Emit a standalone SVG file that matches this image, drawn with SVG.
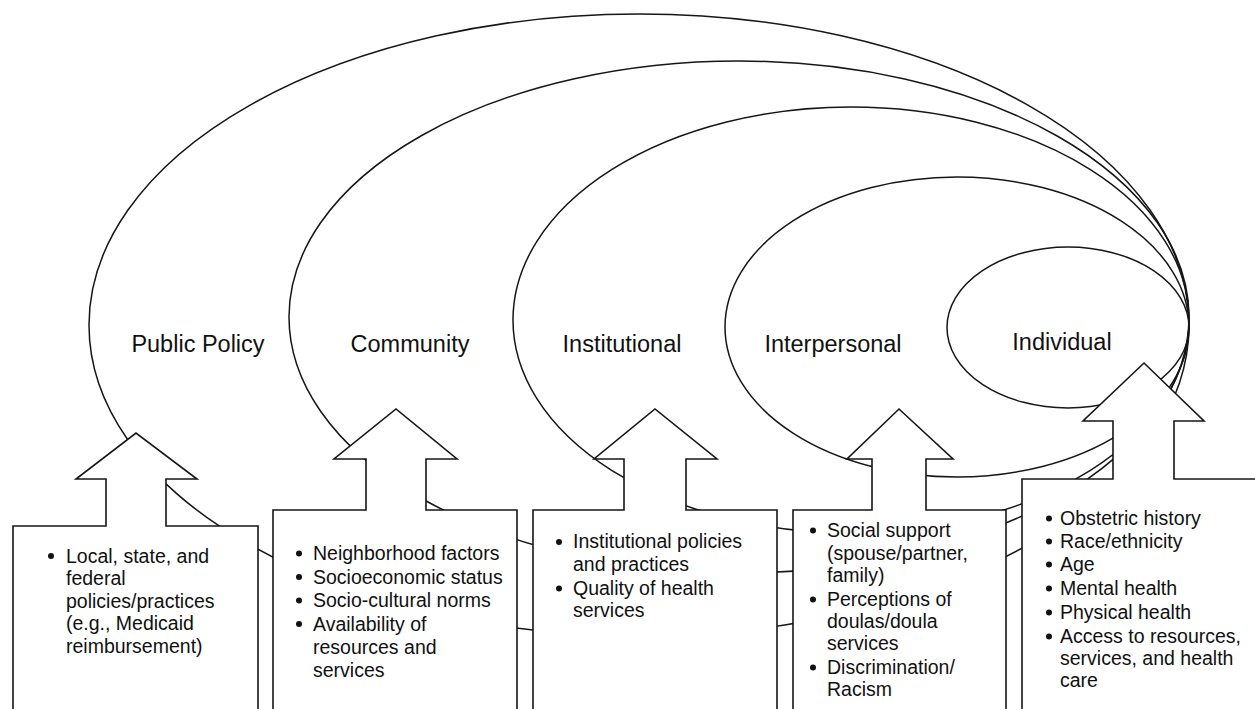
<svg xmlns="http://www.w3.org/2000/svg" width="1255" height="709" viewBox="0 0 1255 709">
<style>
  .ring{fill:none;stroke:#161616;stroke-width:1.5}
  .node{fill:#fff;stroke:#161616;stroke-width:1.6;stroke-linejoin:miter}
  .lbl{font-family:"Liberation Sans",Arial,sans-serif;font-size:23.5px;fill:#111;text-anchor:middle}
  .txt{font-family:"Liberation Sans",Arial,sans-serif;font-size:19.5px;fill:#111}
  .b{fill:#111}
</style>
<rect width="1255" height="709" fill="#fff"/>
<g id="levels">
  <ellipse id="ring-public-policy" class="ring" cx="639" cy="325" rx="550" ry="311"/>
  <ellipse id="ring-community" class="ring" cx="739" cy="317" rx="450" ry="256"/>
  <ellipse id="ring-institutional" class="ring" cx="851" cy="320" rx="338" ry="213"/>
  <ellipse id="ring-interpersonal" class="ring" cx="957" cy="327" rx="232" ry="150"/>
  <ellipse id="ring-individual" class="ring" cx="1068" cy="327.5" rx="121" ry="80.5"/>
  <text class="lbl" x="198" y="352">Public Policy</text>
  <text class="lbl" x="410" y="352">Community</text>
  <text class="lbl" x="622" y="352">Institutional</text>
  <text class="lbl" x="833" y="352">Interpersonal</text>
  <text class="lbl" x="1062" y="350">Individual</text>
</g>
<g id="node-public-policy">
  <path class="node" d="M13,720 V526 H106 V479 H76 L136,433 L197,479 H166 V526 H258 V720 Z"/>
  <circle class="b" cx="51" cy="556" r="3"/>
  <text class="txt"><tspan x="66" y="562.5">Local, state, and</tspan><tspan x="66" y="585">federal</tspan><tspan x="66" y="607.5">policies/practices</tspan><tspan x="66" y="630">(e.g., Medicaid</tspan><tspan x="66" y="652.5">reimbursement)</tspan></text>
</g>
<g id="node-community">
  <path class="node" d="M273,720 V510 H366 V459 H334 L396,409 L457,459 H426 V510 H517 V720 Z"/>
  <circle class="b" cx="299" cy="553.5" r="3"/>
  <circle class="b" cx="299" cy="577" r="3"/>
  <circle class="b" cx="299" cy="600.5" r="3"/>
  <circle class="b" cx="299" cy="624" r="3"/>
  <text class="txt"><tspan x="313" y="560">Neighborhood  factors</tspan><tspan x="313" y="583.5">Socioeconomic status</tspan><tspan x="313" y="607">Socio-cultural norms</tspan><tspan x="313" y="630.5">Availability of</tspan><tspan x="313" y="654">resources and</tspan><tspan x="313" y="677">services</tspan></text>
</g>
<g id="node-institutional">
  <path class="node" d="M533,720 V510 H624 V459 H594 L655,409 L717,459 H686 V510 H777 V720 Z"/>
  <circle class="b" cx="559" cy="542" r="3"/>
  <circle class="b" cx="559" cy="588.5" r="3"/>
  <text class="txt"><tspan x="573" y="548.3">Institutional policies</tspan><tspan x="573" y="571">and practices</tspan><tspan x="573" y="595">Quality of health</tspan><tspan x="573" y="617">services</tspan></text>
</g>
<g id="node-interpersonal">
  <path class="node" d="M793,720 V510 H872 V459 H847 L899,409 L953,459 H926 V510 H1006 V720 Z"/>
  <circle class="b" cx="813" cy="530.5" r="3"/>
  <circle class="b" cx="813" cy="599.5" r="3"/>
  <circle class="b" cx="813" cy="667.5" r="3"/>
  <text class="txt"><tspan x="827" y="537">Social support</tspan><tspan x="827" y="560">(spouse/partner,</tspan><tspan x="827" y="582">family)</tspan><tspan x="827" y="606">Perceptions of</tspan><tspan x="827" y="628">doulas/doula</tspan><tspan x="827" y="650">services</tspan><tspan x="827" y="674">Discrimination/</tspan><tspan x="827" y="696">Racism</tspan></text>
</g>
<g id="node-individual">
  <path class="node" d="M1022,720 V479 H1113 V421 H1083 L1144,363 L1204,421 H1174 V479 H1262 V720 Z"/>
  <circle class="b" cx="1049" cy="518.5" r="3"/>
  <circle class="b" cx="1049" cy="541.5" r="3"/>
  <circle class="b" cx="1049" cy="564.5" r="3"/>
  <circle class="b" cx="1049" cy="588.5" r="3"/>
  <circle class="b" cx="1049" cy="612.5" r="3"/>
  <circle class="b" cx="1049" cy="636.5" r="3"/>
  <text class="txt"><tspan x="1060" y="525">Obstetric history</tspan><tspan x="1060" y="548">Race/ethnicity</tspan><tspan x="1060" y="571">Age</tspan><tspan x="1060" y="595">Mental health</tspan><tspan x="1060" y="619">Physical health</tspan><tspan x="1060" y="643">Access to resources,</tspan><tspan x="1060" y="665">services, and health</tspan><tspan x="1060" y="687">care</tspan></text>
</g>
</svg>
